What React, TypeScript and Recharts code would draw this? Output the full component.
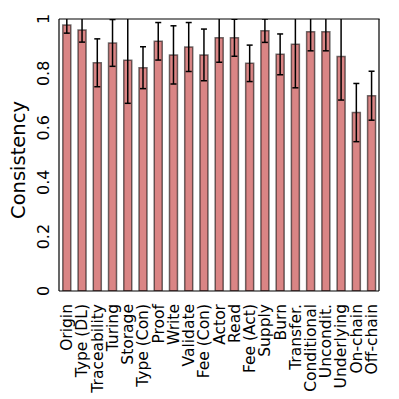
import React from 'react';
import { BarChart, Bar, XAxis, YAxis, ErrorBar } from 'recharts';

const categories = ['Origin', 'Type (DL)', 'Traceability', 'Turing', 'Storage', 'Type (Con)', 'Proof', 'Write', 'Validate', 'Fee (Con)', 'Actor', 'Read', 'Fee (Act)', 'Supply', 'Burn', 'Transfer.', 'Conditional', 'Uncondit.', 'Underlying', 'On-chain', 'Off-chain'];
const consistency = [0.978, 0.96, 0.839, 0.912, 0.848, 0.821, 0.918, 0.868, 0.897, 0.868, 0.931, 0.931, 0.837, 0.957, 0.87, 0.907, 0.953, 0.953, 0.862, 0.656, 0.718];
const errors = [0.03, 0.045, 0.088, 0.086, 0.158, 0.077, 0.069, 0.107, 0.09, 0.095, 0.09, 0.068, 0.067, 0.043, 0.075, 0.16, 0.07, 0.07, 0.16, 0.107, 0.09];
const yTicks = [0, 0.2, 0.4, 0.6, 0.8, 1];

const data = categories.map((name, i) => ({ name, value: consistency[i], err: errors[i] }));

const FONT = 'DejaVu Sans';

const XTick = (props: any) => {
  const { x, y, payload } = props;
  return (
    <g transform={`translate(${x},${y + 5}) rotate(-90)`}>
      <text textAnchor="end" dy="0.36em" fontFamily={FONT} fontSize={15.5} fill="#000">
        {payload.value}
      </text>
    </g>
  );
};

const YTick = (props: any) => {
  const { y, payload } = props;
  const v = payload.value;
  const label = v === 0 ? '0' : v === 1 ? '1' : String(v);
  return (
    <g transform={`translate(49,${y}) rotate(-90)`}>
      <text textAnchor="middle" fontFamily={FONT} fontSize={16} fill="#000">
        {label}
      </text>
    </g>
  );
};

export default function App() {
  return (
    <div style={{ position: 'absolute', left: 0, top: 0, width: 399, height: 399, background: '#fff' }}>
      <BarChart width={399} height={399} data={data} margin={{ top: 19, right: 20, left: 0, bottom: 0 }} barCategoryGap="25%">
        <XAxis dataKey="name" interval={0} height={108} tick={<XTick />} tickLine={false} axisLine={{ stroke: '#000', strokeWidth: 1.2 }} />
        <XAxis xAxisId="b2" dataKey="name" interval={0} mirror tick={false} tickSize={4} tickLine={{ stroke: '#8a3a3a', strokeWidth: 1 }} axisLine={false} />
        <XAxis xAxisId="top" orientation="top" dataKey="name" interval={0} mirror tick={false} tickSize={4} tickLine={{ stroke: '#999', strokeWidth: 1 }} axisLine={false} />
        <YAxis domain={[0, 1]} ticks={yTicks} allowDataOverflow width={59} tick={<YTick />} tickLine={false} axisLine={{ stroke: '#000', strokeWidth: 1.2 }} />
        <YAxis yAxisId="lm" domain={[0, 1]} ticks={yTicks} mirror tick={false} tickSize={4} tickLine={{ stroke: '#000', strokeWidth: 1 }} axisLine={false} />
        <YAxis yAxisId="r" orientation="right" domain={[0, 1]} ticks={yTicks} mirror tick={false} tickSize={4} tickLine={{ stroke: '#999', strokeWidth: 1 }} axisLine={{ stroke: '#000', strokeWidth: 1.2 }} />
        <Bar dataKey="value" fill="#cd5c5c" fillOpacity={0.75} stroke="#000" strokeOpacity={0.55} strokeWidth={1.5} isAnimationActive={false}>
          <ErrorBar dataKey="err" width={3} stroke="#000" strokeWidth={1.5} />
        </Bar>
      </BarChart>
      <svg width={399} height={399} style={{ position: 'absolute', left: 0, top: 0, pointerEvents: 'none' }}>
        <rect x={58} y={0} width={323} height={19} fill="#fff" />
        <line x1={59} y1={19} x2={379.6} y2={19} stroke="#000" strokeWidth={1.2} />
        <text transform="translate(25,160) rotate(-90)" textAnchor="middle" fontFamily={FONT} fontSize={19.5} fill="#000">Consistency</text>
      </svg>
    </div>
  );
}
